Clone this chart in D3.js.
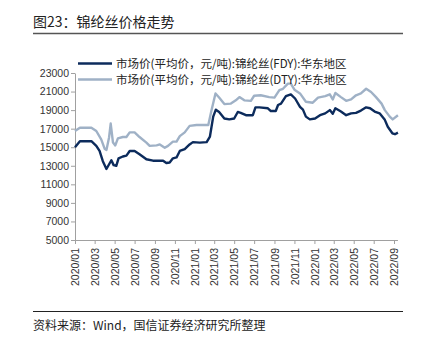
<!DOCTYPE html>
<html>
<head>
<meta charset="utf-8">
<script src="https://cdn.jsdelivr.net/npm/d3@7"></script>
<style>
  html, body { margin: 0; padding: 0; background: #fff; }
  svg { display: block; }
</style>
</head>
<body>
<script>
const titleText = "图23：锦纶丝价格走势";
const sourceText = "资料来源：Wind，国信证券经济研究所整理";
const seriesNames = [
  "市场价(平均价，元/吨):锦纶丝(FDY):华东地区",
  "市场价(平均价，元/吨):锦纶丝(DTY):华东地区"
];
const yTicks = [5000, 7000, 9000, 11000, 13000, 15000, 17000, 19000, 21000, 23000];

const fdyDates = ["2020-01-01","2020-01-16","2020-02-20","2020-03-06","2020-03-16","2020-03-26","2020-04-06","2020-04-21","2020-04-28","2020-05-06","2020-05-13","2020-05-26","2020-06-06","2020-06-16","2020-07-01","2020-07-16","2020-08-06","2020-08-26","2020-09-26","2020-10-06","2020-10-16","2020-10-26","2020-11-06","2020-11-16","2020-12-01","2020-12-16","2020-12-26","2021-01-16","2021-02-06","2021-02-16","2021-02-26","2021-03-06","2021-03-16","2021-04-01","2021-04-16","2021-05-01","2021-05-12","2021-05-21","2021-06-06","2021-06-27","2021-07-05","2021-07-17","2021-08-12","2021-08-21","2021-09-05","2021-09-12","2021-09-21","2021-10-06","2021-10-21","2021-11-03","2021-11-18","2021-11-27","2021-12-06","2021-12-18","2022-01-03","2022-01-18","2022-02-03","2022-02-17","2022-02-26","2022-03-06","2022-03-23","2022-04-08","2022-04-23","2022-05-08","2022-05-23","2022-06-08","2022-06-20","2022-07-04","2022-07-19","2022-08-04","2022-08-13","2022-08-27","2022-09-04","2022-09-13"];
const fdyValues = [15000,15650,15650,15150,14600,13500,12650,13600,13070,13000,13800,14000,14100,14600,14600,14250,13700,13550,13550,13300,13350,13800,13900,14600,14800,15300,15550,15500,15550,16150,18300,19050,18800,18100,18000,18100,18800,18700,18450,18450,19300,19300,19200,18900,18900,19550,19700,20500,20700,20250,19350,19050,18300,18000,18100,18450,18650,19000,18600,19200,18850,18450,18650,18700,18950,19300,19200,18850,18650,17950,17200,16500,16400,16570];

const dtyDates = ["2020-01-01","2020-01-16","2020-02-20","2020-03-06","2020-03-21","2020-04-01","2020-04-06","2020-04-14","2020-04-19","2020-04-26","2020-05-03","2020-05-11","2020-05-26","2020-06-06","2020-06-16","2020-07-01","2020-07-16","2020-08-06","2020-08-16","2020-09-06","2020-09-16","2020-10-01","2020-10-11","2020-10-26","2020-11-06","2020-11-16","2020-12-01","2020-12-16","2021-01-06","2021-01-16","2021-02-11","2021-02-21","2021-03-05","2021-03-16","2021-04-01","2021-04-21","2021-05-06","2021-05-17","2021-06-01","2021-06-21","2021-07-01","2021-07-21","2021-08-16","2021-09-01","2021-09-16","2021-09-27","2021-10-12","2021-10-21","2021-11-01","2021-11-18","2021-12-06","2021-12-27","2022-01-12","2022-02-03","2022-02-17","2022-02-26","2022-03-06","2022-03-23","2022-04-08","2022-04-23","2022-05-08","2022-05-23","2022-06-08","2022-06-23","2022-07-08","2022-07-25","2022-08-04","2022-08-19","2022-08-28","2022-09-13"];
const dtyValues = [16750,17100,17100,16750,15850,14800,14700,16050,17550,15500,15200,15950,16100,16100,16600,16600,16100,15500,15150,15200,15300,14950,15150,15600,15600,16200,16600,17300,17400,17400,17400,19000,20800,20350,19650,19700,20050,20400,20050,20000,20550,20600,20400,20350,21150,21300,21850,21850,21200,20800,19900,19800,20350,20500,20700,20150,20850,20400,20000,20150,20600,20800,21300,20950,20400,19700,19000,18300,18000,18450];

const W = 424, H = 338;
const svg = d3.select("body").append("svg").attr("width", W).attr("height", H);
const parse = d3.timeParse("%Y-%m-%d");

const cjk = "'Noto Sans CJK SC', 'Noto Sans', sans-serif";
const latin = "'Liberation Sans', Arial, sans-serif";

// Title
svg.append("text").attr("x", 33).attr("y", 27)
  .attr("font-family", cjk).attr("font-size", 14).attr("fill", "#222")
  .text(titleText);
svg.append("line").attr("x1", 33).attr("x2", 403).attr("y1", 33.5).attr("y2", 33.5)
  .attr("stroke", "#555").attr("stroke-width", 1.5);

// Scales
const x = d3.scaleTime()
  .domain([parse("2020-01-01"), parse("2022-09-01")])
  .range([75, 394]);
const y = d3.scaleLinear().domain([5000, 23000]).range([240, 73]);

const lastDate = parse(fdyDates[fdyDates.length - 1]);

// Y axis
const yAxis = d3.axisLeft(y).tickValues(yTicks).tickFormat(d3.format("d")).tickSize(4).tickSizeOuter(0);
const gy = svg.append("g").attr("transform", "translate(75,0)").call(yAxis);
gy.select(".domain").attr("stroke", "#a0a0a0");
gy.selectAll(".tick line").attr("stroke", "#a0a0a0");
gy.selectAll(".tick text").attr("font-family", latin).attr("font-size", 10.5).attr("fill", "#333").attr("x", -6);

// X axis
const xAxis = d3.axisBottom(x)
  .ticks(d3.timeMonth.every(2))
  .tickFormat(d3.timeFormat("%Y/%m"))
  .tickSize(4).tickSizeOuter(0);
const gx = svg.append("g").attr("transform", "translate(0,240)").call(xAxis);
gx.select(".domain").remove();
gx.append("line").attr("x1", 75).attr("x2", x(lastDate)).attr("y1", 0.5).attr("y2", 0.5)
  .attr("stroke", "#a0a0a0");
gx.selectAll(".tick line").attr("stroke", "#a0a0a0");
gx.selectAll(".tick text")
  .attr("font-family", latin).attr("font-size", 10.5).attr("fill", "#333")
  .attr("transform", "rotate(-90)")
  .attr("text-anchor", "end")
  .attr("x", -8).attr("y", 0).attr("dy", "0.35em");

// Lines
const fdy = fdyDates.map((d, i) => ({ date: parse(d), value: fdyValues[i] }));
const dty = dtyDates.map((d, i) => ({ date: parse(d), value: dtyValues[i] }));
const line = d3.line().x(d => x(d.date)).y(d => y(d.value));

const colors = ["#0c2b5c", "#9fb1c6"];
svg.append("path").datum(dty).attr("d", line).attr("fill", "none")
  .attr("stroke", colors[1]).attr("stroke-width", 2.4).attr("stroke-linejoin", "round");
svg.append("path").datum(fdy).attr("d", line).attr("fill", "none")
  .attr("stroke", colors[0]).attr("stroke-width", 2.4).attr("stroke-linejoin", "round");

// Legend
const legendY = [63.5, 79.5];
seriesNames.forEach((name, i) => {
  svg.append("line").attr("x1", 78).attr("x2", 112).attr("y1", legendY[i]).attr("y2", legendY[i])
    .attr("stroke", colors[i]).attr("stroke-width", 2.6);
  svg.append("text").attr("x", 116).attr("y", legendY[i]).attr("dy", "0.35em")
    .attr("font-family", cjk).attr("font-size", 11.5).attr("fill", "#222")
    .text(name);
});

// Footer
svg.append("line").attr("x1", 33).attr("x2", 403).attr("y1", 311.5).attr("y2", 311.5)
  .attr("stroke", "#222").attr("stroke-width", 1.2);
svg.append("text").attr("x", 33).attr("y", 330)
  .attr("font-family", cjk).attr("font-size", 12).attr("fill", "#222")
  .text(sourceText);
</script>
</body>
</html>
